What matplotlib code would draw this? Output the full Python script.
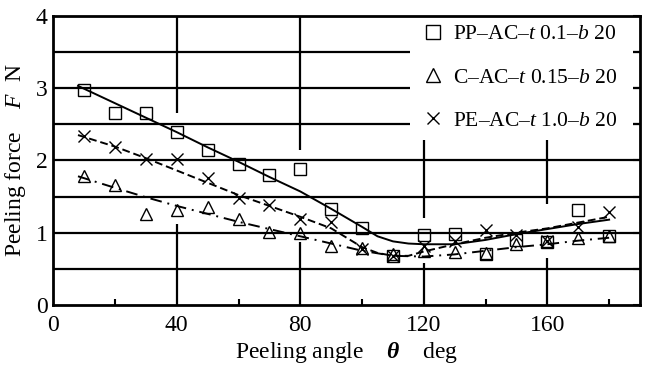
import numpy as np
import matplotlib.pyplot as plt
from matplotlib.lines import Line2D
from matplotlib.patches import Rectangle

plt.rcParams["font.family"] = "Liberation Serif"
plt.rcParams["mathtext.fontset"] = "custom"
plt.rcParams["mathtext.rm"] = "Liberation Serif"
plt.rcParams["mathtext.it"] = "Liberation Serif:italic"
plt.rcParams["mathtext.bf"] = "Liberation Serif:bold"
plt.rcParams["mathtext.bfit"] = "Liberation Serif:italic:bold"

# measured points (peeling angle in deg, force in N)
angles = [10, 20, 30, 40, 50, 60, 70, 80, 90, 100, 110, 120, 130, 140, 150, 160, 170, 180]
pp_force = [2.98, 2.65, 2.65, 2.39, 2.14, 1.95, 1.80, 1.88, 1.33, 1.07, 0.68, 0.97, 0.98, 0.71, 0.90, 0.87, 1.32, 0.95]
c_force = [1.78, 1.66, 1.26, 1.31, 1.36, 1.19, 1.01, 0.99, 0.82, 0.79, 0.70, 0.75, 0.73, 0.72, 0.85, 0.88, 0.92, 0.96]
pe_force = [2.34, 2.19, 2.02, 2.02, 1.75, 1.48, 1.38, 1.19, 1.15, 0.77, 0.68, 0.81, 0.88, 1.04, 0.97, 0.88, 1.08, 1.28]

# fitted curves
pp_fit_x = [8, 20, 30, 40, 50, 60, 70, 80, 90, 100, 105, 110, 115, 120, 130, 140, 150, 160, 170, 180]
pp_fit_y = [3.03, 2.79, 2.59, 2.39, 2.18, 1.98, 1.77, 1.57, 1.33, 1.08, 0.95, 0.88, 0.85, 0.84, 0.84, 0.90, 0.98, 1.05, 1.12, 1.18]
c_fit_x = [8, 20, 30, 40, 50, 60, 70, 80, 90, 100, 110, 120, 130, 140, 150, 160, 170, 180]
c_fit_y = [1.78, 1.62, 1.49, 1.37, 1.26, 1.15, 1.05, 0.95, 0.85, 0.75, 0.68, 0.67, 0.70, 0.75, 0.80, 0.84, 0.89, 0.93]
pe_fit_x = [8, 20, 30, 40, 50, 60, 70, 80, 90, 100, 105, 110, 115, 120, 130, 140, 150, 160, 170, 180]
pe_fit_y = [2.35, 2.19, 2.03, 1.86, 1.69, 1.52, 1.37, 1.22, 1.06, 0.80, 0.72, 0.68, 0.68, 0.74, 0.84, 0.93, 1.00, 1.06, 1.14, 1.22]

labels = ["PP\u2013AC\u2013$t$ 0.1\u2013$b$ 20",
          "C\u2013AC\u2013$t$ 0.15\u2013$b$ 20",
          "PE\u2013AC\u2013$t$ 1.0\u2013$b$ 20"]

# vertical grid lines are broken where the data runs through them
vgrid_x = [40, 80, 120, 160]
vgrid_gap = [(1.12, 2.65), (0.87, 2.14), (0.58, 1.2), (0.65, 1.4)]

fig = plt.figure(figsize=(6.46, 3.68), dpi=100)
ax = fig.add_axes([0.0825, 0.1712, 0.9082, 0.786])
ax.set_xlim(0, 190)
ax.set_ylim(0, 4)

for y in np.arange(0.5, 4, 0.5):
    ax.axhline(y, color="black", lw=1.6, zorder=1)
for x, (lo, hi) in zip(vgrid_x, vgrid_gap):
    ax.vlines(x, 0, lo, color="black", lw=1.6, zorder=1)
    ax.vlines(x, hi, 4, color="black", lw=1.6, zorder=1)

# white box behind the legend
ax.add_patch(Rectangle((0.608, 0.57), 0.38, 0.43, transform=ax.transAxes,
                       facecolor="white", edgecolor="none", zorder=2))

ax.plot(pp_fit_x, pp_fit_y, color="black", lw=1.4, ls="-", zorder=3)
ax.plot(pe_fit_x, pe_fit_y, color="black", lw=1.4, ls=(0, (4, 2)), zorder=3)
ax.plot(c_fit_x, c_fit_y, color="black", lw=1.4, ls=(0, (6, 3, 1, 3)), zorder=3)

mk = dict(color="black", ls="none", mfc="none", mew=1.0, zorder=4)
ax.plot(angles, pp_force, marker="s", ms=8, **mk)
ax.plot(angles, c_force, marker="^", ms=8, **mk)
ax.plot(angles, pe_force, marker="x", ms=8, **mk)

handles = [Line2D([], [], marker="s", ms=10, **mk),
           Line2D([], [], marker="^", ms=10, **mk),
           Line2D([], [], marker="x", ms=9, **mk)]
leg = ax.legend(handles, labels, loc="upper left", bbox_to_anchor=(0.6, 1.03),
                frameon=False, fontsize=15.5, handlelength=1.0, handletextpad=0.4,
                labelspacing=1.08, borderpad=0.3)
leg.set_zorder(5)

ax.set_xticks([0, 40, 80, 120, 160])
ax.set_xticks([20, 60, 100, 140, 180], minor=True)
ax.set_yticks([0, 1, 2, 3, 4])
ax.set_yticks(np.arange(0.5, 4, 0.5), minor=True)
ax.tick_params(axis="both", which="both", direction="in", labelsize=17, width=1.5)
ax.tick_params(axis="x", which="major", length=0, pad=7)
ax.tick_params(axis="x", which="minor", length=4)
ax.tick_params(axis="y", which="both", left=False, right=True, length=5, pad=4)

for s in ax.spines.values():
    s.set_linewidth(2)

ax.set_xlabel("Peeling angle    $\\mathbfit{\\theta}$    deg", fontsize=17, labelpad=3)
ax.set_ylabel("Peeling force    $F$  N", fontsize=17, labelpad=6)

fig.savefig("out.png", dpi=100)
